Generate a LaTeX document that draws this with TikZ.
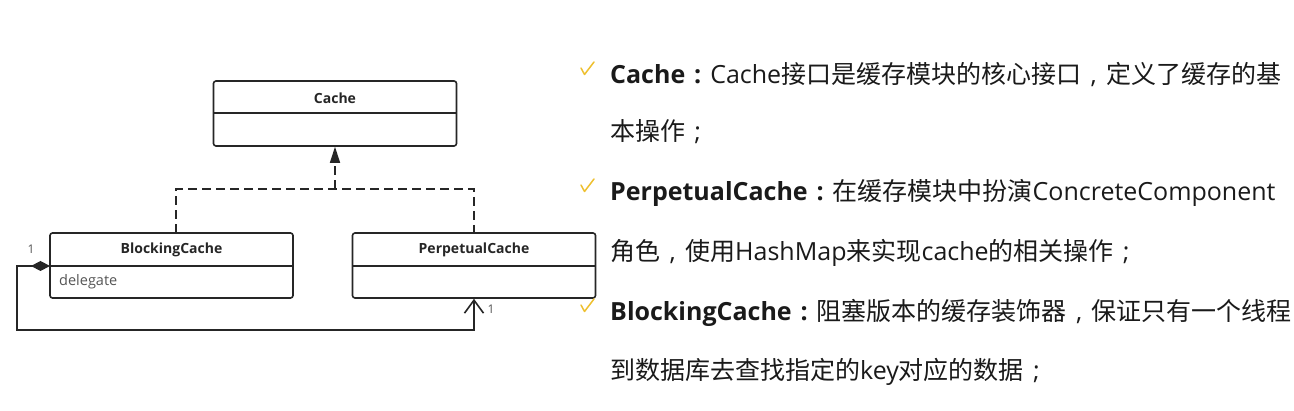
\documentclass[tikz,border=0pt]{standalone}
\usepackage{fontspec}
\setmainfont{Open Sans}
\newfontfamily\cjk{Noto Sans CJK SC}
\usetikzlibrary{arrows.meta}
\definecolor{umlline}{HTML}{262626}
\definecolor{txt}{HTML}{1A1A1A}
\definecolor{gold}{HTML}{EEC030}
\definecolor{attr}{HTML}{555555}
\tikzset{
  umlbox/.style={draw=umlline, line width=1.6pt, rounded corners=2.5pt, minimum width=243pt, minimum height=65pt, inner sep=0pt},
  umltitle/.style={font=\fontsize{14}{16}\selectfont\bfseries, text=umlline, inner sep=0pt},
  divider/.style={draw=umlline, line width=1.6pt},
  realize/.style={draw=umlline, line width=1.6pt, dash pattern=on 9pt off 5pt},
  compos/.style={draw=umlline, line width=1.6pt},
  mult/.style={font=\fontsize{12}{14}\selectfont, text=attr, inner sep=0pt},
  desc/.style={anchor=base west, inner sep=0pt, text=txt, font=\fontsize{25}{30}\selectfont},
  tick/.style={draw=gold, line width=1.5pt, line cap=round, line join=round},
}
\newcommand{\zh}[1]{{\cjk #1}}
\newcommand{\fwp}[1]{\makebox[1em][c]{#1}}
\begin{document}
\begin{tikzpicture}[x=1pt,y=-1pt]
\useasboundingbox[fill=white] (0,0) rectangle (1294,411);

% UML boxes
\node[umlbox] (cache) at (335,113.5) {};
\node[umlbox] (bc) at (171.5,265.5) {};
\node[umlbox] (pc) at (474,265.5) {};
\draw[divider] (213.5,113) -- (456.5,113);
\draw[divider] (50,266) -- (293,266);
\draw[divider] (352.5,266) -- (595.5,266);
\node[umltitle] (cacheT) at (335,98) {Cache};
\node[umltitle] (bcT) at (171.5,250) {BlockingCache};
\node[umltitle] (pcT) at (474,250) {PerpetualCache};
\node[anchor=west, inner sep=0pt, text=attr, font=\fontsize{14.5}{16}\selectfont] (deleg) at (59,282) {delegate};

% realization
\coordinate (junc) at (335,189);
\coordinate (bctop) at (176,233);
\draw[realize] (bctop) |- (junc) -| (pc.north);
\draw[realize, -{Triangle[length=16pt,width=10pt]}] (junc) -- (cache.south);

% composition
\coordinate (bcdiv) at (50,266);
\coordinate (loopc) at (17,330);
\draw[compos, {Diamond[length=19pt,width=10pt]}-{Straight Barb[length=13pt,width=19pt]}] (bcdiv) -| (loopc) -| (pc.south);
\node[mult] (m1) at (31,249) {1};
\node[mult] (m2) at (491,309) {1};

% description text
\draw[tick] (581,68) -- (584.5,74.5) -- (594,62);
\draw[tick] (581,185) -- (584.5,191.5) -- (594,179);
\draw[tick] (581,305) -- (584.5,311.5) -- (594,299);

\node[desc] (l1) at (610,84) {\textbf{Cache\fwp{:}}Cache\zh{接口是缓存模块的核心接口}\fwp{,}\zh{定义了缓存的基}};
\node[desc] (l2) at (610,141) {\zh{本操作}\fwp{;}};
\node[desc] (l3) at (610,201) {\textbf{PerpetualCache\fwp{:}}\zh{在缓存模块中扮演}ConcreteComponent};
\node[desc] (l4) at (610,261) {\zh{角色}\fwp{,}\zh{使用}HashMap\zh{来实现}cache\zh{的相关操作}\fwp{;}};
\node[desc] (l5) at (610,321) {\textbf{BlockingCache\fwp{:}}\zh{阻塞版本的缓存装饰器}\fwp{,}\zh{保证只有一个线程}};
\node[desc] (l6) at (610,380) {\zh{到数据库去查找指定的}key\zh{对应的数据}\fwp{;}};
\end{tikzpicture}
\end{document}
